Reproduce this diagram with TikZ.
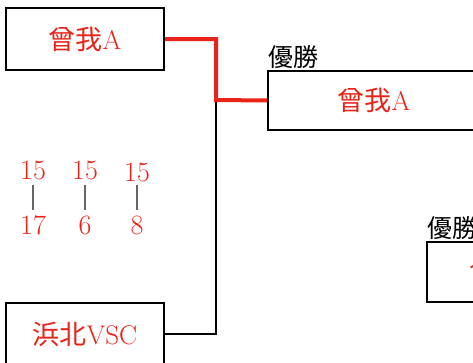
\documentclass[tikz,border=0pt]{standalone}
\usepackage{fontspec}
\newfontfamily\cjk{Noto Sans CJK JP}
\usepackage{tikz}
\usetikzlibrary{positioning}
\definecolor{winred}{RGB}{232,36,24}

\begin{document}
\begin{tikzpicture}[x=1pt, y=-1pt]
	\useasboundingbox (0,0) rectangle (473,362);
	\clip (0,0) rectangle (473,362);

	\begin{scope}[every node/.style={rectangle, draw, line width=2pt, text=winred,
	              font=\fontsize{27}{27}\selectfont}]
		\node[minimum width=158pt, minimum height=62pt] (sogaA) at (85,39) {{\cjk 曾我}A};
		\node[minimum width=212pt, minimum height=59pt] (champ) at (374,100.5) {{\cjk 曾我}A};
		\node[minimum width=158pt, minimum height=62pt] (hamakita) at (85,334) {{\cjk 浜北}VSC};
		\node[minimum width=158pt, minimum height=60pt] (champB) at (506,272) {{\cjk 曾我}A};
	\end{scope}

	\begin{scope}[every node/.style={inner sep=1pt, font=\fontsize{25}{25}\selectfont\cjk}]
		\node[anchor=south west] (win1) at (champ.north west) {優勝};
		\node[anchor=south west] (win2) at (champB.north west) {優勝};
	\end{scope}

	% scores
	\begin{scope}[every node/.style={text=winred, inner sep=0pt, font=\fontsize{28}{28}\selectfont}]
		\node (s1a) at (33,170) {15};
		\node (s2a) at (85,170) {15};
		\node (s3a) at (137,172) {15};
		\node (s1b) at (33,225) {17};
		\node (s2b) at (85,225) {6};
		\node (s3b) at (137,225) {8};
	\end{scope}
	\path (s1a.south) ++(0,5) coordinate (t1a);
	\path (s1b.north) ++(0,-5) coordinate (t1b);
	\path (s2a.south) ++(0,5) coordinate (t2a);
	\path (s2b.north) ++(0,-5) coordinate (t2b);
	\path (s3a.south) ++(0,3) coordinate (t3a);
	\path (s3b.north) ++(0,-5) coordinate (t3b);
	\draw[black!60, line width=1.2pt] (t1a) -- (t1b);
	\draw[black!60, line width=1.2pt] (t2a) -- (t2b);
	\draw[black!60, line width=1.2pt] (t3a) -- (t3b);

	% bracket
	\coordinate (joint) at (216,100);
	\draw[line width=2pt] (hamakita.east) -| (joint);
	\draw[winred, line width=4pt] (sogaA.east) -| (joint) -- (champ.west);
\end{tikzpicture}
\end{document}
